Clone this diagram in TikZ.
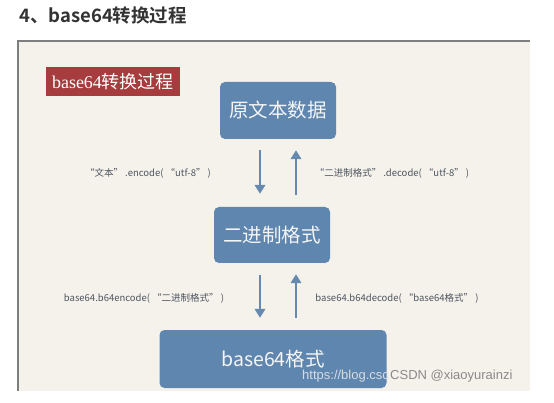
\documentclass[tikz,border=0pt]{standalone}
\usepackage{fontspec}
\setmainfont{Noto Sans CJK SC}
\newfontfamily\cjk{Noto Sans CJK SC}
\newfontfamily\cjkb{Noto Sans CJK SC Bold}
\newfontfamily\lserif{Liberation Serif}
\newfontfamily\lsans{Liberation Sans}
\usetikzlibrary{arrows.meta}
\definecolor{boxblue}{HTML}{5E86AF}
\definecolor{arrblue}{HTML}{6689B0}
\definecolor{labred}{HTML}{A63C3E}
\definecolor{paper}{HTML}{F5F2EB}
\definecolor{framegray}{HTML}{7E7E7E}
\definecolor{txtgray}{HTML}{4E5560}
\definecolor{wmgray}{HTML}{8A8A8A}
\definecolor{wmlight}{HTML}{D8DCE2}
\begin{document}
\begin{tikzpicture}[x=1pt,y=-1pt,
  flowbox/.style={fill=boxblue,rounded corners=5pt,text=white!96!black,font=\cjk\fontsize{19.5}{21}\selectfont,inner sep=0pt},
  arr/.style={draw=arrblue,line width=2.7pt,-{Triangle[length=9pt,width=10.5pt]}},
  lab/.style={text=txtgray,font=\cjk\fontsize{9.5}{11}\selectfont,inner sep=0pt},
  wm/.style={font=\lsans\fontsize{13}{14}\selectfont,inner sep=0pt}]
\useasboundingbox (0,0) rectangle (554,403);
\fill[white] (0,0) rectangle (554,403);
% title
\node[anchor=west,inner sep=0pt,text=black!80,font=\cjkb\fontsize{18.5}{20}\selectfont] (title) at (19,16) {4、base64转换过程};
% screenshot frame
\fill[paper] (17,40) rectangle (530,391);
\draw[framegray,line width=2pt] (18,391) -- (18,41) -- (530,41);
% red label
\node[fill=labred,text=white,minimum width=134pt,minimum height=29pt,inner sep=0pt,font=\fontsize{18}{20}\selectfont] (tag) at (113,82) {{\lserif base64}{\cjk 转换过程}};
% boxes
\node[flowbox,minimum width=116pt,minimum height=57pt] (b1) at (278,110.5) {原文本数据};
\node[flowbox,minimum width=116pt,minimum height=56pt] (b2) at (272,235) {二进制格式};
\node[flowbox,minimum width=227pt,minimum height=58pt] (b3) at (273,359) {base64格式};
% arrow columns
\coordinate (cl) at (260,0);
\coordinate (cr) at (296,0);
\draw[arr,shorten <=11pt,shorten >=13pt] (b1.south -| cl) -- (b2.north -| cl);
\draw[arr,shorten <=12pt,shorten >=11pt] (b2.north -| cr) -- (b1.south -| cr);
\draw[arr,shorten <=12pt,shorten >=12pt] (b2.south -| cl) -- (b3.north -| cl);
\draw[arr,shorten <=12pt,shorten >=11pt] (b3.north -| cr) -- (b2.south -| cr);
% labels
\node[lab] (l1) at (148,173) {“文本” .encode( “utf-8” )};
\node[lab] (l2) at (392,173) {“二进制格式” .decode( “utf-8” )};
\node[lab] (l3) at (144,298) {base64.b64encode( “二进制格式” )};
\node[lab] (l4) at (397,298) {base64.b64decode( “base64格式” )};
% watermark
\node[wm,text=wmlight,anchor=west] (w1) at (302,376) {https://blog.csc};
\node[wm,text=wmgray,anchor=west] (w2) at (390,376) {CSDN @xiaoyurainzi};
\end{tikzpicture}
\end{document}
